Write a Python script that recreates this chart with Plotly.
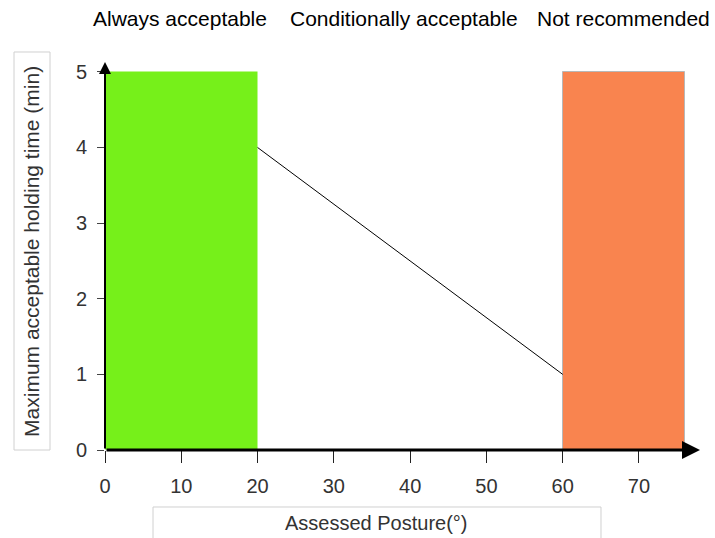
import plotly.graph_objects as go

# Data
zone_labels = ["Always acceptable", "Conditionally acceptable", "Not recommended"]
zone_label_x = [9.8, 39.2, 68.0]
bar_start = [0, 60]
bar_end = [20, 76]
bar_height = [5, 5]
bar_colors = ["#76F01A", "#F9844F"]
line_x = [20, 60]
line_y = [4, 1]
x_ticks = [0, 10, 20, 30, 40, 50, 60, 70]
y_ticks = [0, 1, 2, 3, 4, 5]

FONT = "Liberation Sans"

fig = go.Figure()
fig.add_trace(go.Bar(
    x=[(s + e) / 2 for s, e in zip(bar_start, bar_end)],
    y=bar_height,
    width=[e - s for s, e in zip(bar_start, bar_end)],
    marker=dict(color=bar_colors, line=dict(color=["rgba(0,0,0,0)", "#B8B8B8"], width=1)),
    showlegend=False, hoverinfo="skip",
))
fig.add_trace(go.Scatter(x=line_x, y=line_y, mode="lines",
                         line=dict(color="black", width=1), showlegend=False))

fig.update_layout(
    width=715, height=538,
    margin=dict(l=105, r=15, t=62, b=88),
    plot_bgcolor="white", paper_bgcolor="white",
    font=dict(family=FONT, size=20, color="#333333"),
    xaxis=dict(range=[0, 78], tickvals=x_ticks, showgrid=False, zeroline=False,
               showline=False, ticks="outside", ticklen=12, tickcolor="#222",
               tickwidth=1, tickfont=dict(size=20, color="#333"), ticklabelstandoff=6),
    yaxis=dict(range=[0, 5.13], tickvals=y_ticks, showgrid=False, zeroline=False,
               showline=False, ticks="outside", ticklen=7, tickcolor="#444",
               tickwidth=1, tickfont=dict(size=20, color="#333"), ticklabelstandoff=6),
    bargap=0,
)

# Axis lines with arrows
fig.add_annotation(x=78, y=0, ax=0, ay=0, xref="x", yref="y", axref="x", ayref="y",
                   showarrow=True, arrowhead=2, arrowsize=1.2, arrowwidth=3,
                   arrowcolor="black", text="")
fig.add_annotation(x=0, y=5.13, ax=0, ay=0, xref="x", yref="y", axref="x", ayref="y",
                   showarrow=True, arrowhead=2, arrowsize=1.2, arrowwidth=2,
                   arrowcolor="black", text="")

# Zone labels on top
for lbl, xx in zip(zone_labels, zone_label_x):
    fig.add_annotation(x=xx, y=1.113, xref="x", yref="paper", text=lbl,
                       xanchor="center", yanchor="middle",
                       showarrow=False, font=dict(size=21, color="black"))

# Axis title boxes
fig.add_shape(type="rect", xref="paper", yref="paper", x0=-0.1529, x1=-0.0924,
              y0=0, y1=1.0258, line=dict(color="#D0D0D0", width=1), layer="below")
fig.add_annotation(x=-0.1227, y=0.513, xref="paper", yref="paper",
                   xanchor="center", yanchor="middle",
                   text="Maximum acceptable holding time (min)", textangle=-90,
                   showarrow=False, font=dict(size=21, color="#333"))
fig.add_shape(type="rect", xref="paper", yref="paper", x0=0.0807, x1=0.8336,
              y0=-0.26, y1=-0.1469, line=dict(color="#D0D0D0", width=1), layer="below")
fig.add_annotation(x=0.457, y=-0.188, xref="paper", yref="paper",
                   xanchor="center", yanchor="middle",
                   text="Assessed Posture(°)", showarrow=False,
                   font=dict(size=20, color="#333"))

fig.write_html("out.html", config={"displayModeBar": False},
               post_script="document.body.style.margin='0px';")
